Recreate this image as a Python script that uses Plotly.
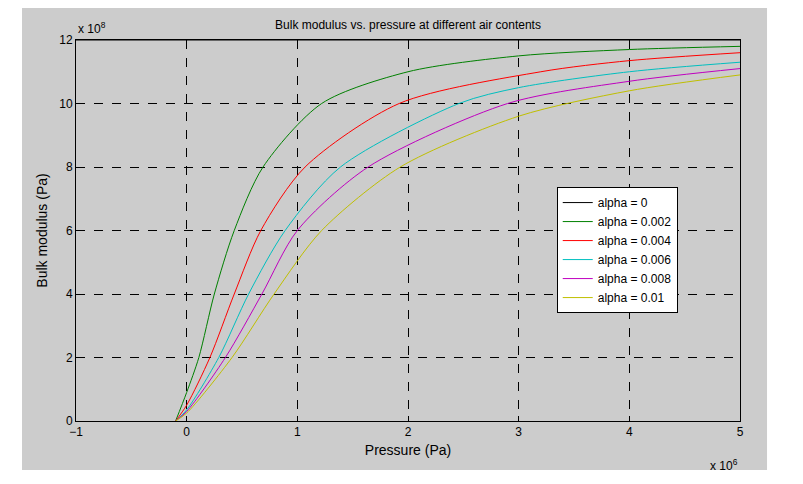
import plotly.graph_objects as go

# pressure in units of 1e6 Pa, bulk modulus in units of 1e8 Pa
p_000 = [-1, 5]
k_000 = [12, 12]
p_002 = [-0.1, 0, 0.11, 0.25, 0.43, 0.69, 1.22, 2.0, 3.0, 4.0, 5.0]
k_002 = [0, 0.9, 2, 4, 6, 8, 10, 11, 11.5, 11.7, 11.8]
p_004 = [-0.1, 0, 0.21, 0.43, 0.67, 1.07, 1.92, 3.2, 4.0, 5.0]
k_004 = [0, 0.5, 2, 4, 6, 8, 10, 11, 11.35, 11.6]
p_006 = [-0.1, 0, 0.29, 0.56, 0.89, 1.39, 2.46, 3.0, 4.0, 5.0]
k_006 = [0, 0.35, 2, 4, 6, 8, 10, 10.5, 11.0, 11.3]
p_008 = [-0.1, 0, 0.35, 0.68, 1.0, 1.64, 2.9, 4.0, 5.0]
k_008 = [0, 0.3, 2, 4, 6, 8, 10, 10.7, 11.1]
p_010 = [-0.1, 0, 0.41, 0.79, 1.22, 1.93, 3.0, 4.0, 5.0]
k_010 = [0, 0.25, 2, 4, 6, 8, 9.6, 10.4, 10.9]
labels = ["alpha = 0", "alpha = 0.002", "alpha = 0.004", "alpha = 0.006", "alpha = 0.008", "alpha = 0.01"]
colors = ["#000000", "#008000", "#ff0000", "#00bfbf", "#bf00bf", "#bfbf00"]

fig = go.Figure()
series = [(p_000, k_000), (p_002, k_002), (p_004, k_004), (p_006, k_006), (p_008, k_008), (p_010, k_010)]
for name, col, (xs, ys) in zip(labels, colors, series):
    fig.add_trace(go.Scatter(x=xs, y=ys, mode="lines", name=name,
                             line=dict(color=col, width=1, shape="spline", smoothing=0.8)))

font = dict(family="Liberation Sans, Arial", size=12, color="black")
ax = dict(showline=True, linecolor="black", linewidth=1, mirror=True,
          showgrid=True, gridcolor="black", griddash="dash", gridwidth=1,
          zeroline=False, ticks="inside", ticklen=5, tickcolor="black",
          tickfont=font)
fig.update_layout(
    width=803, height=484,
    margin=dict(l=68, r=71, t=32, b=71),
    paper_bgcolor="white", plot_bgcolor="white",
    font=font, showlegend=True,
    title=dict(text="Bulk modulus vs. pressure at different air contents",
               x=0.5, xref="paper", y=0.965, yanchor="middle", font=font),
    xaxis=dict(ax, range=[-1, 5], dtick=1, title=dict(text="Pressure (Pa)", standoff=6)),
    yaxis=dict(ax, range=[0, 12], dtick=2, title=dict(text="Bulk modulus (Pa)", standoff=8)),
    legend=dict(x=0.724, y=0.614, xanchor="left", yanchor="top",
                bgcolor="white", bordercolor="black", borderwidth=1,
                font=font, tracegroupgap=0),
    shapes=[dict(type="rect", xref="paper", yref="paper", x0=-0.0813, x1=1.0407,
                 y0=-0.1286, y1=1.084, fillcolor="#cccccc", line_width=0, layer="below")],
    annotations=[
        dict(text="x 10<sup>8</sup>", xref="paper", yref="paper", x=0, y=1.005,
             xanchor="left", yanchor="bottom", showarrow=False, font=font),
        dict(text="x 10<sup>6</sup>", xref="paper", yref="paper", x=1.0, y=-0.09,
             xanchor="right", yanchor="top", showarrow=False, font=font),
    ],
)
fig.write_html("out.html")
